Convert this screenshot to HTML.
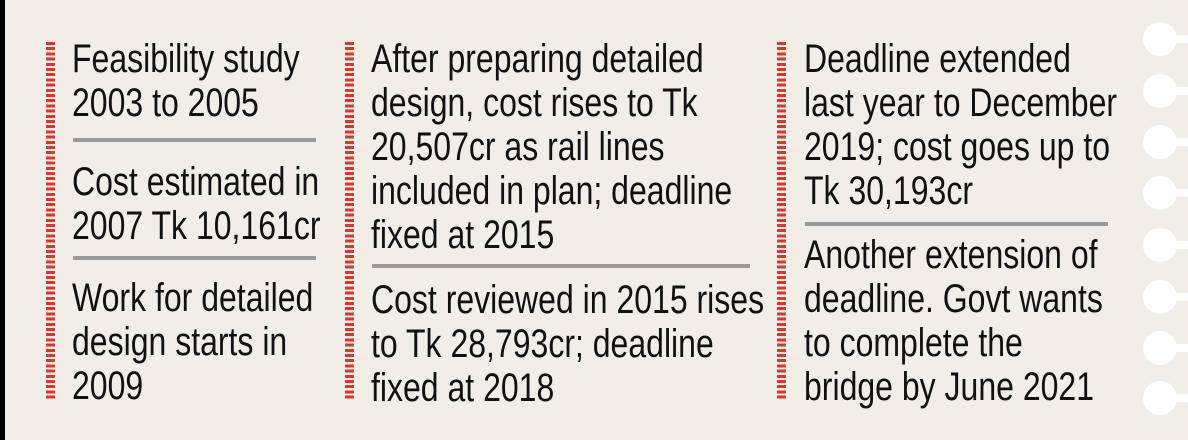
<!DOCTYPE html>
<html><head><meta charset="utf-8"><style>
body{margin:0;width:1188px;height:440px;background:#f0eee7;position:relative;overflow:hidden;font-family:"Liberation Sans",sans-serif;color:#111}
.bar{position:absolute;left:0;top:0;width:5px;height:440px;background:#000}
.dash{position:absolute;width:9px;top:42px;height:358px;background:repeating-linear-gradient(to bottom,#d9362f 0 3px,transparent 3px 5.2px)}
.rule{position:absolute;height:4px;background:#9a9a9a}
.t{position:absolute;font-size:40px;line-height:44px;white-space:nowrap;transform:scaleX(.8);transform-origin:0 0}
.c{position:absolute;width:34px;height:34px;border-radius:50%;background:#fff}
.l{position:absolute;height:8px;width:30px;background:#fff}
</style></head><body>
<div class="bar"></div>
<div class="dash" style="left:46px"></div>
<div class="dash" style="left:345px"></div>
<div class="dash" style="left:777px"></div>

<div class="t" style="left:72px;top:37px">Feasibility study<br>2003 to 2005</div>
<div class="rule" style="left:73px;top:138px;width:243px"></div>
<div class="t" style="left:72px;top:160px">Cost estimated in<br>2007 Tk 10,161cr</div>
<div class="rule" style="left:73px;top:256px;width:243px"></div>
<div class="t" style="left:72px;top:276px">Work for detailed<br>design starts in<br>2009</div>

<div class="t" style="left:371px;top:37px">After preparing detailed<br>design, cost rises to Tk<br>20,507cr as rail lines<br>included in plan; deadline<br>fixed at 2015</div>
<div class="rule" style="left:372px;top:264px;width:378px"></div>
<div class="t" style="left:371px;top:278px">Cost reviewed in 2015 rises<br>to Tk 28,793cr; deadline<br>fixed at 2018</div>

<div class="t" style="left:804px;top:37px">Deadline extended<br>last year to December<br>2019; cost goes up to<br>Tk 30,193cr</div>
<div class="rule" style="left:805px;top:222px;width:303px"></div>
<div class="t" style="left:804px;top:233px">Another extension of<br>deadline. Govt wants<br>to complete the<br>bridge by June 2021</div>

<div class="c" style="left:1143px;top:22px"></div><div class="l" style="left:1160px;top:35px"></div>
<div class="c" style="left:1143px;top:74px"></div><div class="l" style="left:1160px;top:87px"></div>
<div class="c" style="left:1143px;top:125px"></div><div class="l" style="left:1160px;top:138px"></div>
<div class="c" style="left:1143px;top:176px"></div><div class="l" style="left:1160px;top:189px"></div>
<div class="c" style="left:1143px;top:228px"></div><div class="l" style="left:1160px;top:241px"></div>
<div class="c" style="left:1143px;top:280px"></div><div class="l" style="left:1160px;top:293px"></div>
<div class="c" style="left:1143px;top:331px"></div><div class="l" style="left:1160px;top:344px"></div>
<div class="c" style="left:1143px;top:381px"></div><div class="l" style="left:1160px;top:394px"></div>
</body></html>
